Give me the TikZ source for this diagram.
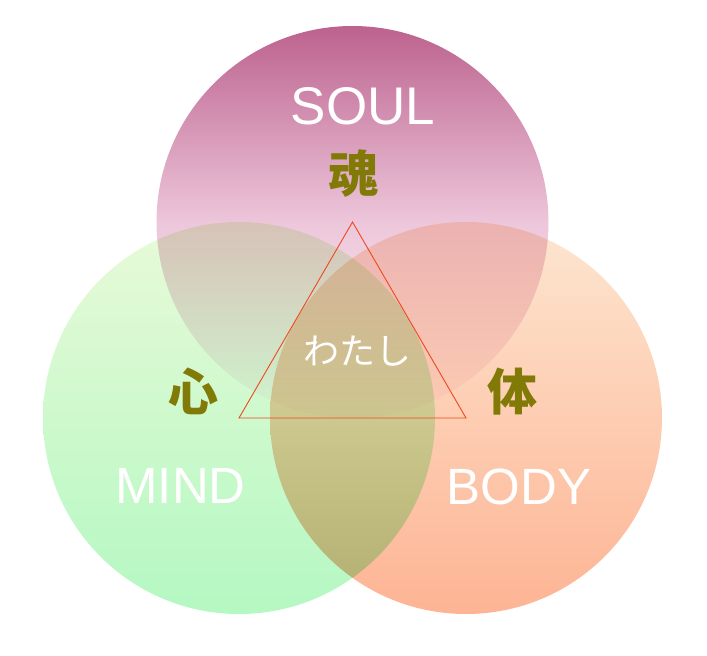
\documentclass[tikz,border=0pt]{standalone}
\usepackage{fontspec}
\usepackage{tikz}
\usetikzlibrary{calc,shapes,positioning}
\newfontfamily\latfont{Liberation Sans}
\newfontfamily\cjkfont{Noto Sans CJK JP}
\definecolor{soultop}{RGB}{188,98,142}
\definecolor{soulmid}{RGB}{237,198,218}
\definecolor{soulbot}{RGB}{255,252,255}
\definecolor{mindtop}{RGB}{232,250,216}
\definecolor{mindbot}{RGB}{180,248,194}
\definecolor{bodytop}{RGB}{253,230,208}
\definecolor{bodybot}{RGB}{253,180,148}
\definecolor{kanji}{RGB}{130,122,6}
\definecolor{triline}{RGB}{238,72,30}

\begin{document}
\begin{tikzpicture}[x=1pt,y=-1pt]
        \tikzstyle{cnode} = [circle, draw=none, minimum size = 392pt, inner sep = 0pt]
        \tikzstyle{enode} = [text=white, inner sep = 0pt, font=\latfont\fontsize{51}{51}\selectfont]
        \tikzstyle{knode} = [text=kanji, inner sep = 0pt, font=\cjkfont\bfseries\fontsize{50}{50}\selectfont]

        \useasboundingbox (0,0) rectangle (707,656);

        \begin{scope}[blend mode=multiply]
          \node[cnode, top color=soultop, bottom color=soulbot, middle color=soulmid] (soul) at (352.5,222) {};
          \node[cnode, top color=mindtop, bottom color=mindbot] (mind) at (239,418) {};
          \node[cnode, top color=bodytop, bottom color=bodybot] (body) at (466,418) {};
        \end{scope}

        \draw[triline, line width=0.9pt] (soul.center) -- (mind.center) -- (body.center) -- cycle;

        \node[enode, font=\latfont\fontsize{53}{53}\selectfont] (soult) at (363,106) {SOUL};
        \node[enode] (mindt) at (180.5,486) {MIND};
        \node[enode] (bodyt) at (519,487) {BODY};

        \node[knode] (tama) at (353.5,174) {魂};
        \node[knode] (kokoro) at (193,391) {心};
        \node[knode] (karada) at (512,392) {体};
        \node[text=white, inner sep = 0pt, font=\cjkfont\fontsize{36}{36}\selectfont] (watashi) at (357,351) {わたし};
      \end{tikzpicture}
\end{document}
